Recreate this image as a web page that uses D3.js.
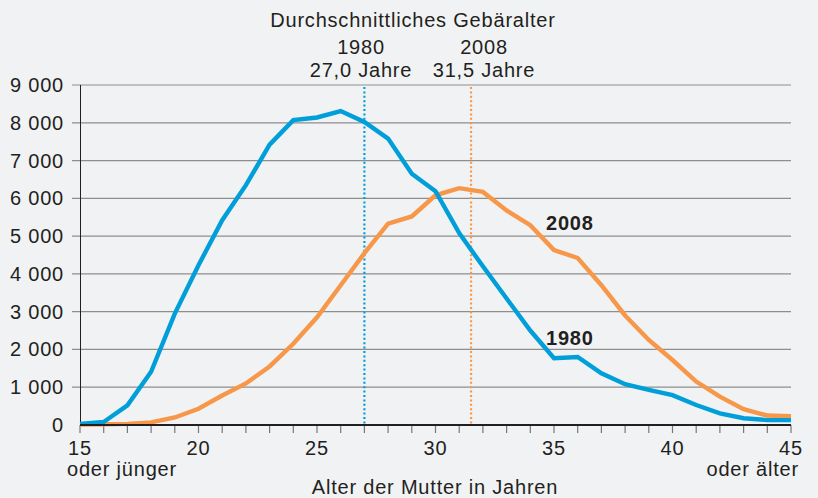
<!DOCTYPE html>
<html>
<head>
<meta charset="utf-8">
<script src="https://cdn.jsdelivr.net/npm/d3@7"></script>
<style>
  body { margin: 0; background: #f1f2f4; }
  svg { display: block; font-family: "Liberation Sans", Arial, sans-serif; }
  svg text { font-size: 20px; fill: #231f20; letter-spacing: 0.8px; }
</style>
</head>
<body>
<div id="chart"></div>
<script>
// ages 15 (oder jünger) .. 45 (oder älter)
const ages = d3.range(15, 46);
const births1980 = [30, 80, 520, 1410, 2950, 4230, 5420, 6350, 7420, 8070, 8140, 8310, 8020, 7580,
  6650, 6190, 5080, 4200, 3350, 2500, 1770, 1800, 1370, 1080, 930, 790, 530, 310, 180, 130, 130];
const births2008 = [10, 20, 30, 70, 200, 430, 780, 1100, 1550, 2150, 2850, 3700, 4550, 5330,
  5520, 6080, 6270, 6170, 5680, 5290, 4630, 4420, 3700, 2900, 2250, 1720, 1150, 750, 420, 250, 230];
const yTicks = d3.range(0, 9001, 1000);
const xLabels = [15, 20, 25, 30, 35, 40, 45];
const meanAge = [{ year: "1980", age: 27.0, text: "27,0 Jahre" }, { year: "2008", age: 31.5, text: "31,5 Jahre" }];

const width = 818, height = 498;
const blue = "#009fd9", orange = "#f7974a";

const svg = d3.select("#chart").append("svg")
  .attr("width", width)
  .attr("height", height);

svg.append("rect").attr("width", width).attr("height", height).attr("fill", "#f1f2f4");

const x = d3.scaleLinear().domain([15, 45]).range([80, 791]);
const y = d3.scaleLinear().domain([0, 9000]).range([425, 85]);

const fmt = v => d3.format(",")(v).replace(",", " ");

// gridlines
svg.append("g").selectAll("line")
  .data(yTicks.filter(d => d > 0))
  .enter().append("line")
  .attr("x1", 72).attr("x2", 791)
  .attr("y1", d => y(d)).attr("y2", d => y(d))
  .attr("stroke", "#8e8e8e").attr("stroke-width", 1.2);

// y labels
svg.append("g").selectAll("text")
  .data(yTicks)
  .enter().append("text")
  .attr("x", 64).attr("y", d => y(d) + 7)
  .attr("text-anchor", "end")
  .text(fmt);

// y axis line
svg.append("line").attr("x1", 80.5).attr("x2", 80.5).attr("y1", y(9000)).attr("y2", y(0))
  .attr("stroke", "#231f20").attr("stroke-width", 1);

// x ticks
svg.append("g").selectAll("line")
  .data(ages)
  .enter().append("line")
  .attr("x1", d => x(d)).attr("x2", d => x(d))
  .attr("y1", 425).attr("y2", 433)
  .attr("stroke", "#777").attr("stroke-width", 1.2);

// x labels
svg.append("g").selectAll("text")
  .data(xLabels)
  .enter().append("text")
  .attr("x", d => x(d)).attr("y", 455)
  .attr("text-anchor", "middle")
  .text(d => d);

svg.append("text").attr("x", 67).attr("y", 476).text("oder jünger");
svg.append("text").attr("x", 799).attr("y", 476).attr("text-anchor", "end").text("oder älter");
svg.append("text").attr("x", 435).attr("y", 494).attr("text-anchor", "middle").text("Alter der Mutter in Jahren");

// mean age markers
const colors = { "1980": blue, "2008": orange };
svg.append("g").selectAll("line")
  .data(meanAge)
  .enter().append("line")
  .attr("x1", d => x(d.age)).attr("x2", d => x(d.age))
  .attr("y1", 87).attr("y2", 425)
  .attr("stroke", d => colors[d.year]).attr("stroke-width", 2.2)
  .attr("stroke-dasharray", "2,2.4");

// lines
const line = d3.line().x((d, i) => x(ages[i])).y(d => y(d));
[[births2008, orange], [births1980, blue]].forEach(([data, c]) => {
  svg.append("path").datum(data)
    .attr("d", line)
    .attr("fill", "none")
    .attr("stroke", c).attr("stroke-width", 4.4)
    .attr("stroke-linejoin", "miter");
});

// x axis line
svg.append("line").attr("x1", 80).attr("x2", 791).attr("y1", 425).attr("y2", 425)
  .attr("stroke", "#231f20").attr("stroke-width", 2.2);

// header
svg.append("text").attr("x", 413).attr("y", 27).attr("text-anchor", "middle").text("Durchschnittliches Gebäralter");
meanAge.forEach(d => {
  const cx = d.year === "1980" ? 361 : 484;
  svg.append("text").attr("x", cx).attr("y", 54).attr("text-anchor", "middle").text(d.year);
  svg.append("text").attr("x", cx).attr("y", 77).attr("text-anchor", "middle").text(d.text);
});

// series labels
svg.append("text").attr("x", 546).attr("y", 230).attr("font-weight", "bold").text("2008");
svg.append("text").attr("x", 546).attr("y", 345).attr("font-weight", "bold").text("1980");
</script>
</body>
</html>
